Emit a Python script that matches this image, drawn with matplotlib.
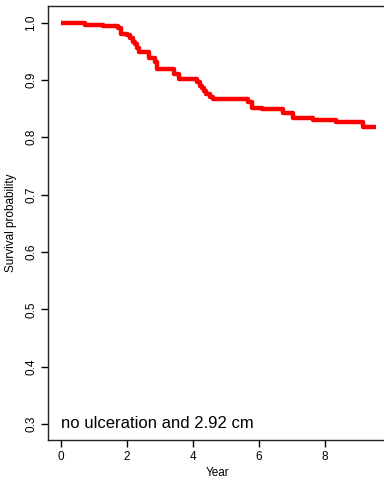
import matplotlib
matplotlib.use("Agg")
import matplotlib.pyplot as plt

plt.rcParams['font.family'] = ['Liberation Sans', 'DejaVu Sans']

# Kaplan-Meier step curve: event times (years) and survival after each step
times = [0.0, 0.74, 1.28, 1.75, 1.82, 2.00, 2.10, 2.18, 2.25, 2.30, 2.38,
         2.68, 2.86, 2.93, 3.43, 3.58, 4.14, 4.22, 4.27, 4.34, 4.42, 4.52,
         4.62, 4.72, 5.68, 5.79, 6.10, 6.73, 7.03, 7.64, 8.34, 9.15, 9.55]
surv = [1.000, 0.996, 0.994, 0.990, 0.980, 0.978, 0.973, 0.967, 0.962, 0.956,
        0.948, 0.939, 0.932, 0.919, 0.910, 0.901, 0.897, 0.890, 0.886, 0.881,
        0.876, 0.871, 0.867, 0.867, 0.862, 0.851, 0.849, 0.842, 0.833, 0.830,
        0.826, 0.818, 0.818]

x_ticks = [0, 2, 4, 6, 8]
y_ticks = [0.3, 0.4, 0.5, 0.6, 0.7, 0.8, 0.9, 1.0]
label_text = "no ulceration and 2.92 cm"

fig = plt.figure(figsize=(3.84, 4.8), dpi=100)
ax = fig.add_axes([0.126, 0.0833, 0.881, 0.9042])

ax.step(times, surv, where='post', color='#ff0000', lw=3.2, solid_capstyle='butt')

ax.set_xlim(-0.37, 9.88)
ax.set_ylim(0.272, 1.029)
ax.set_xticks(x_ticks)
ax.set_yticks(y_ticks)
ax.set_xticklabels([str(t) for t in x_ticks])
ax.set_yticklabels([f"{t:.1f}" for t in y_ticks], rotation=90, va='center')
ax.tick_params(direction='out', length=5, width=1, labelsize=8.5, pad=3, colors='black')
for s in ax.spines.values():
    s.set_linewidth(1.0)
    s.set_color('#222222')

ax.set_xlabel("Year", fontsize=8.5, labelpad=3)
ax.set_ylabel("Survival probability", fontsize=8.5, labelpad=6)

ax.text(0, 0.3, label_text, fontsize=12, ha='left', va='center')

fig.savefig("out.png", dpi=100)
